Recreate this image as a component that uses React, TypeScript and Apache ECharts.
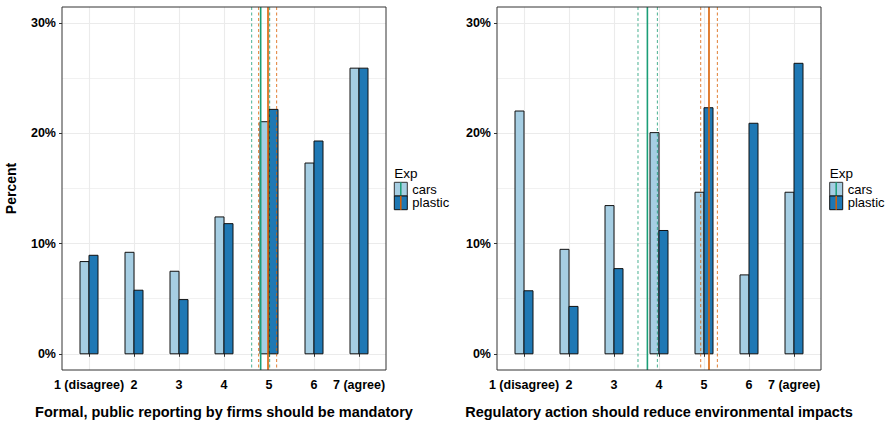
import React, { useEffect, useRef } from "react";
import * as echarts from "echarts";

const categories = ["1 (disagree)", "2", "3", "4", "5", "6", "7 (agree)"];
const tickValues = [1, 2, 3, 4, 5, 6, 7];
const yMajor = [0, 10, 20, 30];
const yMinor = [5, 15, 25];

const leftCars = [8.37, 9.21, 7.49, 12.42, 21.06, 17.31, 25.92];
const leftPlastic = [8.94, 5.77, 4.92, 11.81, 22.18, 19.31, 25.92];
const rightCars = [22.03, 9.48, 13.45, 20.07, 14.66, 7.16, 14.66];
const rightPlastic = [5.72, 4.3, 7.73, 11.19, 22.33, 20.92, 26.36];

// means and interval bounds: [mean, low, high]
const leftCarsMean = [4.815, 4.615, 5.015];
const leftPlasticMean = [4.978, 4.77, 5.17];
const rightCarsMean = [3.742, 3.533, 3.964];
const rightPlasticMean = [5.111, 4.927, 5.297];

const titles = [
  "Formal, public reporting by firms should be mandatory",
  "Regulatory action should reduce environmental impacts",
];

const FONT = "'Liberation Sans', Arial, Helvetica, sans-serif";
const CARS = "#a6cee3";
const PLASTIC = "#1f78b4";
const GREEN = "#1b9e77";
const ORANGE = "#d95f02";
const BAR_W = 0.2;

function barSeries(values: number[], grid: number, offset: number, color: string, name: string) {
  return {
    type: "custom",
    name,
    xAxisIndex: grid,
    yAxisIndex: grid * 2,
    z: 2,
    data: values.map((v, i) => [i + 1, v]),
    encode: { x: 0, y: 1 },
    renderItem: (params: any, api: any) => {
      const x = api.value(0);
      const v = api.value(1);
      const a = api.coord([x + offset, 0]);
      const b = api.coord([x + offset + BAR_W, v]);
      return {
        type: "rect",
        shape: { x: a[0], y: b[1], width: b[0] - a[0], height: a[1] - b[1] },
        style: { fill: color, stroke: "#111", lineWidth: 1 },
      };
    },
  };
}

function lineSeries(stats: number[], grid: number, color: string) {
  return {
    type: "custom",
    xAxisIndex: grid,
    yAxisIndex: grid * 2,
    z: 5,
    silent: true,
    data: stats.map((v, i) => [v, 0, i === 0 ? 1 : 0]),
    encode: { x: 0, y: 1 },
    renderItem: (params: any, api: any) => {
      const x = api.value(0);
      const solid = api.value(2) === 1;
      const cs = params.coordSys;
      const px = api.coord([x, 0])[0];
      return {
        type: "line",
        shape: { x1: px, y1: cs.y, x2: px, y2: cs.y + cs.height },
        style: {
          stroke: color,
          lineWidth: solid ? 1.6 : 1,
          lineDash: solid ? null : [3, 2.5],
          opacity: solid ? 1 : 0.8,
        },
      };
    },
  };
}

function legend(x: number) {
  const keyW = 13;
  const keyH = 13.7;
  const y0 = 182.3;
  return {
    type: "group",
    children: [
      {
        type: "text",
        x,
        y: 173,
        style: { text: "Exp", font: `13.5px ${FONT}`, fill: "#000", verticalAlign: "middle" },
      },
      { type: "rect", shape: { x, y: y0, width: keyW, height: keyH }, style: { fill: CARS, stroke: "#333", lineWidth: 1 } },
      { type: "line", shape: { x1: x + keyW / 2, y1: y0, x2: x + keyW / 2, y2: y0 + keyH }, style: { stroke: GREEN, lineWidth: 1.5 } },
      { type: "rect", shape: { x, y: y0 + keyH, width: keyW, height: keyH }, style: { fill: PLASTIC, stroke: "#111", lineWidth: 1 } },
      { type: "line", shape: { x1: x + keyW / 2, y1: y0 + keyH, x2: x + keyW / 2, y2: y0 + 2 * keyH }, style: { stroke: ORANGE, lineWidth: 1.5 } },
      {
        type: "text",
        x: x + 18,
        y: y0 + keyH / 2,
        style: { text: "cars", font: `13px ${FONT}`, fill: "#000", verticalAlign: "middle" },
      },
      {
        type: "text",
        x: x + 18,
        y: y0 + keyH * 1.5,
        style: { text: "plastic", font: `13px ${FONT}`, fill: "#000", verticalAlign: "middle" },
      },
    ],
  };
}

export default function App() {
  const ref = useRef<HTMLDivElement>(null);
  useEffect(() => {
    if (!ref.current) return;
    const chart = echarts.init(ref.current, null, { renderer: "svg" });
    const grids = [
      { left: 62, top: 7, width: 324, height: 365 },
      { left: 497, top: 7, width: 324, height: 365 },
    ];
    const xAxes = grids.map((_, g) => ({
      type: "value",
      gridIndex: g,
      min: 0.4,
      max: 7.6,
      name: titles[g],
      nameLocation: "middle",
      nameGap: 34,
      nameTextStyle: { fontFamily: FONT, fontWeight: "bold", fontSize: 14.5, color: "#000" },
      axisLine: { show: false },
      axisTick: { show: true, customValues: tickValues, length: 3, lineStyle: { color: "#333" } },
      axisLabel: {
        customValues: tickValues,
        formatter: (v: number) => categories[Math.round(v) - 1],
        fontFamily: FONT,
        fontWeight: "bold",
        fontSize: 12.5,
        color: "#000",
        margin: 8,
      },
      splitLine: { show: true, lineStyle: { color: "#ebebeb", width: 1.1 } },
    }));
    const yAxes: any[] = [];
    grids.forEach((_, g) => {
      yAxes.push({
        type: "value",
        gridIndex: g,
        min: -1.47,
        max: 31.47,
        name: g === 0 ? "Percent" : "",
        nameLocation: "middle",
        nameGap: 44,
        nameTextStyle: { fontFamily: FONT, fontWeight: "bold", fontSize: 14, color: "#000" },
        axisLine: { show: false },
        axisTick: { show: true, customValues: yMajor, length: 3, lineStyle: { color: "#333" } },
        axisLabel: {
          customValues: yMajor,
          formatter: (v: number) => `${v}%`,
          fontFamily: FONT,
          fontWeight: "bold",
          fontSize: 12.5,
          color: "#000",
          margin: 6,
        },
        splitLine: { show: true, lineStyle: { color: "#ebebeb", width: 1.1 } },
      });
      yAxes.push({
        type: "value",
        gridIndex: g,
        min: -1.47,
        max: 31.47,
        position: "left",
        axisLine: { show: false },
        axisTick: { show: false, customValues: yMinor },
        axisLabel: { show: false, customValues: yMinor },
        splitLine: { show: true, lineStyle: { color: "#ebebeb", width: 0.7 } },
      });
    });
    chart.setOption({
      animation: false,
      backgroundColor: "#fff",
      grid: grids.map((g) => ({ ...g, show: true, borderColor: "#333", borderWidth: 1, backgroundColor: "transparent", z: 10 })),
      xAxis: xAxes,
      yAxis: yAxes,
      series: [
        barSeries(leftCars, 0, -BAR_W, CARS, "cars"),
        barSeries(leftPlastic, 0, 0, PLASTIC, "plastic"),
        barSeries(rightCars, 1, -BAR_W, CARS, "cars"),
        barSeries(rightPlastic, 1, 0, PLASTIC, "plastic"),
        lineSeries(leftCarsMean, 0, GREEN),
        lineSeries(leftPlasticMean, 0, ORANGE),
        lineSeries(rightCarsMean, 1, GREEN),
        lineSeries(rightPlasticMean, 1, ORANGE),
      ],
      graphic: [legend(394.3), legend(829.7)],
    });
    return () => chart.dispose();
  }, []);
  return <div ref={ref} style={{ position: "fixed", left: 0, top: 0, width: 888, height: 424 }} />;
}
